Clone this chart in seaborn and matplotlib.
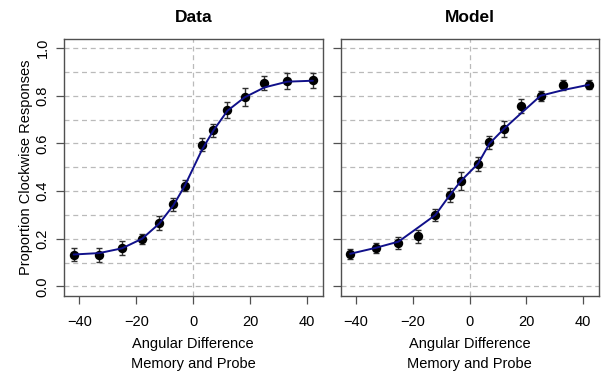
import numpy as np
import pandas as pd
import matplotlib
matplotlib.use("Agg")
import matplotlib.pyplot as plt
import seaborn as sns

# Angular difference between memory item and probe (degrees)
angles = [-42, -33, -25, -18, -12, -7, -3, 3, 7, 12, 18, 25, 33, 42]

# Observed proportion of clockwise responses with standard errors
data_mean = [0.134, 0.132, 0.161, 0.199, 0.266, 0.345, 0.423,
             0.594, 0.655, 0.741, 0.794, 0.853, 0.861, 0.864]
data_se = [0.029, 0.029, 0.031, 0.023, 0.031, 0.027, 0.022,
           0.027, 0.026, 0.034, 0.037, 0.029, 0.034, 0.033]
data_fit = [0.134, 0.140, 0.160, 0.200, 0.263, 0.340, 0.422,
            0.572, 0.653, 0.737, 0.793, 0.835, 0.859, 0.863]

# Simulated model responses with standard errors
model_mean = [0.136, 0.162, 0.183, 0.210, 0.300, 0.384, 0.441,
              0.515, 0.604, 0.661, 0.756, 0.800, 0.845, 0.846]
model_se = [0.022, 0.022, 0.024, 0.027, 0.025, 0.028, 0.038,
            0.029, 0.027, 0.034, 0.029, 0.020, 0.020, 0.019]
model_fit = [0.137, 0.162, 0.188, 0.248, 0.300, 0.382, 0.443,
             0.515, 0.599, 0.660, 0.725, 0.800, 0.824, 0.846]

panel_titles = ["Data", "Model"]
x_ticks = [-40, -20, 0, 20, 40]
y_ticks = [0.0, 0.2, 0.4, 0.6, 0.8, 1.0]
y_tick_labels = ["0.0", "0.2", "0.4", "0.6", "0.8", "1.0"]

sns.set_style("white")
plt.rcParams["font.family"] = ["Liberation Sans", "DejaVu Sans"]
plt.rcParams["text.color"] = "black"
plt.rcParams["axes.labelcolor"] = "black"
plt.rcParams["xtick.color"] = "black"
plt.rcParams["ytick.color"] = "black"

fig = plt.figure(figsize=(6.01, 3.74), dpi=100)
ax_left = fig.add_axes([0.1065, 0.2086, 0.4302, 0.6884])
ax_right = fig.add_axes([0.5666, 0.2086, 0.4293, 0.6884])

panels = [
    (ax_left, data_mean, data_se, data_fit),
    (ax_right, model_mean, model_se, model_fit),
]

spine_col = "#505050"
for i, (ax, mean, se, fit) in enumerate(panels):
    df = pd.DataFrame({"angle": angles, "mean": mean, "se": se, "fit": fit})

    # reference grid
    for yv in np.arange(0, 1.01, 0.1):
        ax.axhline(yv, color="#bababa", lw=0.9, ls=(0, (4, 3)), zorder=0)
    ax.axvline(0, color="#bababa", lw=0.9, ls=(0, (4, 3)), zorder=0)

    ax.errorbar(df["angle"], df["mean"], yerr=df["se"], fmt="none",
                ecolor="#303030", elinewidth=1.0, capsize=2.3,
                capthick=1.0, zorder=2)
    sns.scatterplot(data=df, x="angle", y="mean", ax=ax, color="black",
                    s=46, edgecolor="black", linewidth=0, zorder=3)
    sns.lineplot(data=df, x="angle", y="fit", ax=ax, color="#10108a",
                 lw=1.4, zorder=4)

    ax.set_xlim(-45.4, 45.4)
    ax.set_ylim(-0.04, 1.04)
    ax.set_xticks(x_ticks)
    ax.set_xticklabels(["\u221240", "\u221220", "0", "20", "40"])
    ax.set_yticks(y_ticks)
    if i == 0:
        ax.set_yticklabels(y_tick_labels, rotation=90, va="center")
        ax.set_ylabel("Proportion Clockwise Responses", fontsize=10.5,
                      labelpad=2)
    else:
        ax.set_yticklabels([])
        ax.set_ylabel("")

    ax.set_xlabel("Angular Difference\nMemory and Probe", fontsize=10.5,
                  linespacing=1.55, labelpad=6)
    ax.set_title(panel_titles[i], fontsize=12.5, fontweight="bold", pad=12)

    ax.tick_params(axis="both", direction="out", length=5.5, width=0.9,
                   color=spine_col, labelcolor="black", labelsize=10.5,
                   pad=8, bottom=True, left=True)
    ax.tick_params(axis="y", pad=5)
    for sp in ax.spines.values():
        sp.set_color(spine_col)
        sp.set_linewidth(1.0)
        sp.set_visible(True)

fig.savefig("out.png", dpi=100)
